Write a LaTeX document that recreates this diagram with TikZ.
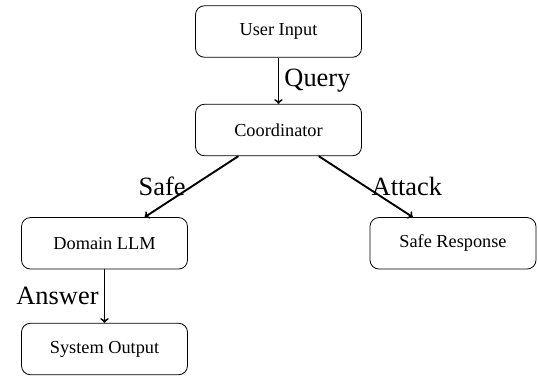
\documentclass[tikz,border=0pt]{standalone}
\usepackage{fontspec}
\setmainfont{Liberation Serif}
\begin{document}
\begin{tikzpicture}[x=1pt,y=-1pt,
  box/.style={draw, line width=0.8pt, rounded corners=9pt, minimum width=166pt, minimum height=51.5pt, font=\fontsize{18.3}{22}\selectfont},
  flow/.style={->, line width=1.9pt},
  lbl/.style={font=\fontsize{26.4}{30}\selectfont, inner sep=5pt}]
\useasboundingbox (0,0) rectangle (538,380);
\node[box] (user) at (278.5,31.5) {User Input};
\node[box] (coord) at (278.5,130) {Coordinator};
\node[box] (domain) at (104.5,243.3) {Domain LLM};
\node[box] (safe) at (453,243.3) {Safe Response};
\node[box] (out) at (104.5,349) {System Output};
\draw[flow] (user) -- node[lbl, midway, right] {Query} (coord);
\draw[flow] (coord) -- node[lbl, midway, left] {Safe} (domain);
\draw[flow] (coord) -- node[lbl, midway, right] {Attack} (safe);
\draw[flow] (domain) -- node[lbl, midway, left] {Answer} (out);
\end{tikzpicture}
\end{document}
